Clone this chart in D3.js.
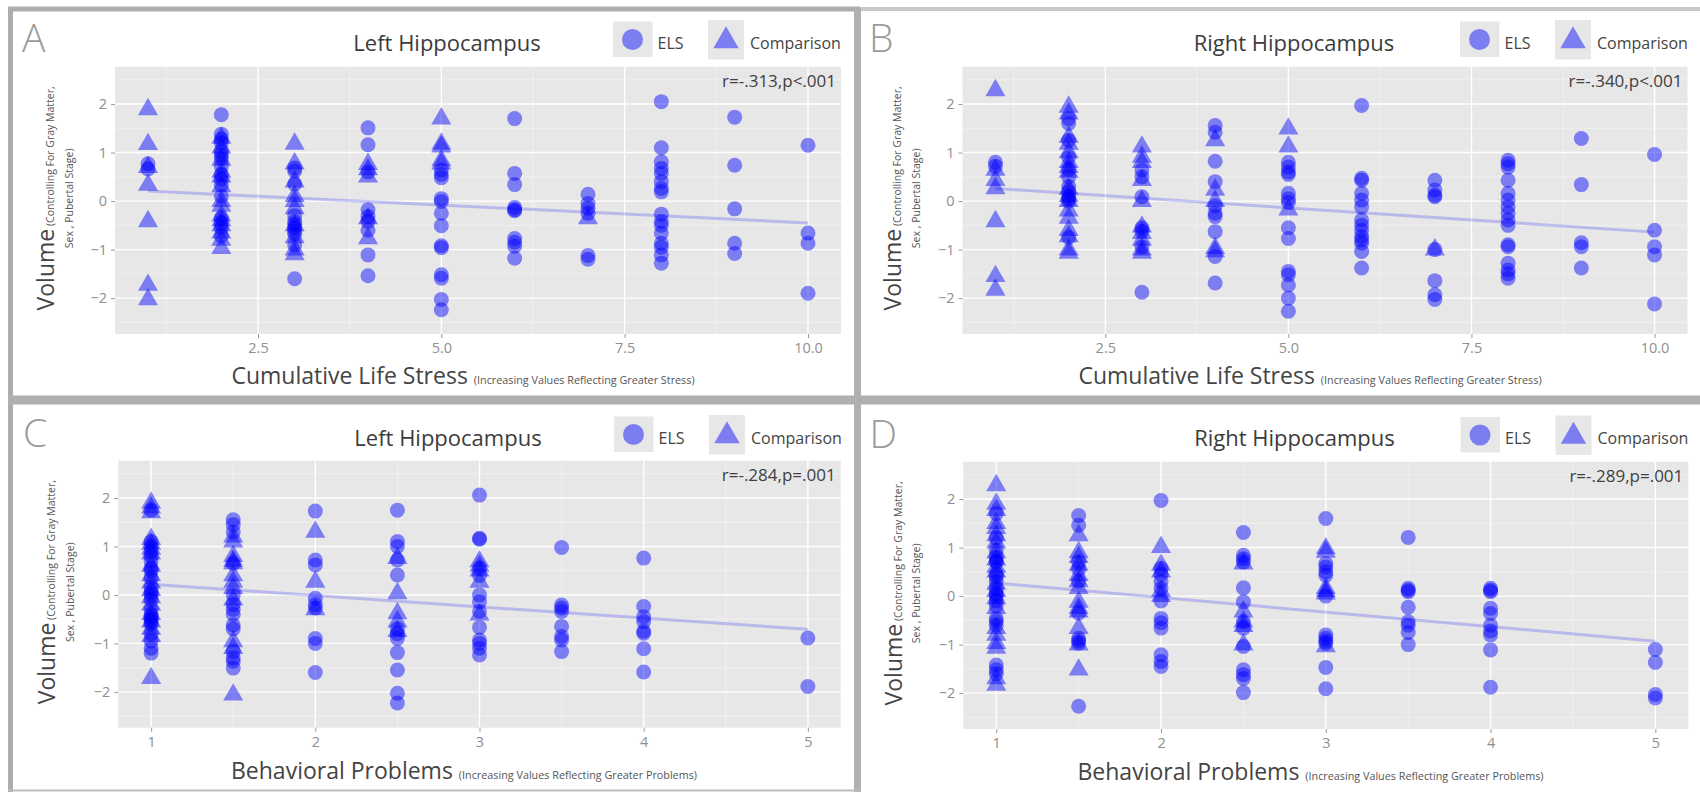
<!DOCTYPE html>
<html><head><meta charset="utf-8">
<script src="https://cdn.jsdelivr.net/npm/d3@7"></script>
<style>
body{margin:0;background:#fff;}
svg{display:block;font-family:'Open Sans',sans-serif;}
</style>
</head><body>
<svg id="c" width="1700" height="792"></svg>
<script>
// ---------------- DATA ----------------
const stressTicks = [2.5, 5.0, 7.5, 10.0];
const behavTicks = [1, 2, 3, 4, 5];
const volumeTicks = [-2, -1, 0, 1, 2];
const legendLabels = ["ELS", "Comparison"];

// Panel A: Left hippocampus vs cumulative life stress  [x, [y values]]
const A_ELS = [
  [1, [0.77, 0.66]],
  [2, [1.78, 1.38, 1.28, 1.2, 1.02, 0.95, 0.88, 0.72, 0.55, 0.45, 0.33, 0.1, -0.35, -0.45, -0.55, -0.72]],
  [3, [0.68, 0.62, 0.35, -0.3, -0.42, -0.48, -0.55, -0.62, -0.68, -0.9, -1.6]],
  [4, [1.51, 1.16, 0.6, -0.18, -0.32, -0.42, -0.6, -1.11, -1.54]],
  [5, [0.64, 0.55, 0.48, 0.05, -0.01, -0.25, -0.51, -0.92, -0.96, -1.52, -1.59, -2.03, -2.24]],
  [6, [1.70, 0.57, 0.34, -0.13, -0.18, -0.2, -0.77, -0.85, -0.93, -1.18]],
  [7, [0.14, -0.05, -0.15, -0.25, -1.12, -1.2]],
  [8, [2.05, 1.10, 0.81, 0.67, 0.57, 0.40, 0.26, 0.19, -0.27, -0.42, -0.5, -0.66, -0.87, -0.95, -1.11, -1.28]],
  [9, [1.73, 0.74, -0.16, -0.87, -1.08]],
  [10, [1.15, -0.66, -0.87, -1.90]]
];
const A_CMP = [
  [1, [1.89, 1.17, 0.7, 0.33, -0.42, -1.73, -2.03]],
  [2, [1.3, 1.1, 0.85, 0.6, 0.5, 0.3, 0.0, -0.1, -0.3, -0.4, -0.5, -0.65, -0.8, -0.97]],
  [3, [1.18, 0.77, 0.4, 0.1, 0.0, -0.15, -0.5, -0.75, -1.0, -1.1]],
  [4, [0.76, 0.65, 0.5, -0.36, -0.77]],
  [5, [1.70, 1.18, 1.12, 0.84, 0.77]],
  [7, [-0.36]]
];
const A_FIT = [[1, 0.21], [10, -0.45]];

// Panel B: Right hippocampus vs cumulative life stress
const B_ELS = [
  [1, [0.8, 0.72]],
  [2, [1.70, 1.6, 1.25, 0.9, 0.65, 0.5, 0.3, 0.2, 0.1, 0.05, 0.0, -0.75]],
  [3, [0.64, 0.5, 0.09, -0.55, -0.62, -0.94, -1.88]],
  [4, [1.56, 1.42, 0.82, 0.40, -0.1, -0.25, -0.32, -0.63, -1.14, -1.69]],
  [5, [0.8, 0.7, 0.6, 0.55, 0.16, 0.05, -0.03, -0.55, -0.77, -1.45, -1.52, -1.73, -2.0, -2.27]],
  [6, [1.97, 0.47, 0.43, 0.16, 0.02, -0.12, -0.39, -0.5, -0.6, -0.73, -0.8, -0.87, -1.04, -1.38]],
  [7, [0.43, 0.23, 0.12, 0.09, -1.0, -1.64, -1.93, -2.03]],
  [8, [0.84, 0.77, 0.70, 0.43, 0.16, 0.02, -0.12, -0.25, -0.39, -0.5, -0.9, -0.94, -1.28, -1.42, -1.5, -1.59]],
  [9, [1.29, 0.34, -0.86, -0.94, -1.38]],
  [10, [0.96, -0.6, -0.94, -1.11, -2.12]]
];
const B_CMP = [
  [1, [2.28, 0.64, 0.43, 0.26, -0.42, -1.55, -1.83]],
  [2, [1.94, 1.80, 1.32, 1.18, 1.0, 0.8, 0.7, 0.6, 0.25, 0.1, 0.0, -0.2, -0.35, -0.6, -0.73, -1.0, -1.07]],
  [3, [1.12, 0.91, 0.8, 0.43, 0.0, -0.53, -0.66, -0.8, -1.0, -1.07]],
  [4, [1.25, 0.23, 0.0, -0.97, -1.04]],
  [5, [1.49, 1.12, -0.18]],
  [7, [-1.0]]
];
const B_FIT = [[1, 0.26], [10, -0.64]];

// Panel C: Left hippocampus vs behavioral problems
const C_ELS = [
  [1, [1.75, 1.1, 1.0, 0.9, 0.8, 0.7, 0.55, 0.5, 0.35, 0.15, 0.05, 0.0, -0.1, -0.3, -0.4, -0.45, -0.5, -0.55, -0.6, -0.8, -0.95, -1.1, -1.2]],
  [1.5, [1.55, 1.45, 1.3, 0.65, 0.0, -0.2, -0.3, -0.4, -0.62, -0.7, -1.17, -1.3, -1.37, -1.51]],
  [2, [1.73, 0.72, 0.62, -0.07, -0.2, -0.27, -0.9, -1.0, -1.6]],
  [2.5, [1.75, 1.1, 1.0, 0.72, 0.41, -0.7, -0.8, -0.9, -1.19, -1.55, -2.03, -2.23]],
  [3, [2.06, 1.17, 1.15, 0.55, 0.4, 0.0, -0.14, -0.34, -0.67, -0.93, -1.0, -1.1, -1.24]],
  [3.5, [0.98, -0.21, -0.27, -0.34, -0.65, -0.86, -0.93, -1.17]],
  [4, [0.76, -0.24, -0.45, -0.55, -0.75, -0.79, -1.11, -1.59]],
  [5, [-0.89, -1.89]]
];
const C_CMP = [
  [1, [1.9, 1.8, 1.7, 1.15, 1.05, 0.95, 0.85, 0.6, 0.4, 0.25, 0.1, -0.05, -0.2, -0.4, -0.55, -0.7, -0.85, -1.72]],
  [1.5, [1.2, 1.1, 0.8, 0.7, 0.65, 0.4, 0.27, 0.14, -0.1, -0.96, -1.1, -2.06]],
  [2, [1.3, 0.27, -0.3]],
  [2.5, [0.76, 0.03, -0.38, -0.55, -0.75]],
  [3, [0.69, 0.6, 0.5, 0.27, -0.41]]
];
const C_FIT = [[1, 0.22], [5, -0.71]];

// Panel D: Right hippocampus vs behavioral problems
const D_ELS = [
  [1, [1.7, 1.2, 0.95, 0.8, 0.72, 0.7, 0.45, 0.4, 0.3, 0.15, 0.05, 0.0, -0.1, -0.2, -0.46, -0.52, -0.6, -1.42, -1.52, -1.6]],
  [1.5, [1.66, 1.46, 0.7, 0.55, 0.3, -0.35, -0.87, -0.92, -0.97, -2.27]],
  [2, [1.97, 0.57, 0.45, 0.3, 0.16, -0.1, -0.46, -0.55, -0.66, -1.21, -1.35, -1.45]],
  [2.5, [1.31, 0.84, 0.77, 0.7, 0.17, -0.12, -0.53, -0.66, -1.04, -1.52, -1.62, -1.7, -1.99]],
  [3, [1.6, 0.67, 0.6, 0.5, 0.43, 0.0, -0.8, -0.87, -0.93, -0.97, -1.47, -1.91]],
  [3.5, [1.21, 0.16, 0.12, 0.09, -0.23, -0.53, -0.6, -0.75, -1.0]],
  [4, [0.16, 0.12, 0.09, -0.25, -0.36, -0.6, -0.72, -0.8, -1.11, -1.88]],
  [5, [-1.1, -1.37, -2.03, -2.1]]
];
const D_CMP = [
  [1, [2.28, 1.9, 1.77, 1.5, 1.4, 1.25, 1.1, 0.9, 0.75, 0.6, 0.5, 0.25, 0.1, -0.05, -0.25, -0.66, -0.8, -0.97, -1.07, -1.7, -1.83]],
  [1.5, [1.25, 0.9, 0.8, 0.64, 0.43, 0.3, 0.16, -0.12, -0.25, -0.32, -0.66, -1.0, -1.52]],
  [2, [1.01, 0.64, 0.5, 0.1, 0.0]],
  [2.5, [0.67, -0.32, -0.53, -0.62, -1.0]],
  [3, [0.98, 0.91, 0.16, 0.1, 0.05, -1.04]]
];
const D_FIT = [[1, 0.27], [5, -0.93]];

// ---------------- LAYOUT ----------------
const panels = [
  {letter: "A", title: "Left Hippocampus", ox: 0, oy: 0,
   plot: {x: 115, y: 66.7, w: 726, h: 267.3},
   xDomain: [0.55, 10.45], ticks: stressTicks, fmt: d3.format(".1f"),
   xTitle: "Cumulative Life Stress", xSub: "(Increasing Values Reflecting Greater Stress)",
   stat: "r=-.313,p<.001", els: A_ELS, cmp: A_CMP, fit: A_FIT},
  {letter: "B", title: "Right Hippocampus", ox: 847, oy: 0,
   plot: {x: 962.5, y: 66.7, w: 725, h: 267.3},
   xDomain: [0.55, 10.45], ticks: stressTicks, fmt: d3.format(".1f"),
   xTitle: "Cumulative Life Stress", xSub: "(Increasing Values Reflecting Greater Stress)",
   stat: "r=-.340,p<.001", els: B_ELS, cmp: B_CMP, fit: B_FIT},
  {letter: "C", title: "Left Hippocampus", ox: 1, oy: 395,
   plot: {x: 118.3, y: 460.7, w: 722.4, h: 267},
   xDomain: [0.8, 5.2], ticks: behavTicks, fmt: d3.format("d"),
   xTitle: "Behavioral Problems", xSub: "(Increasing Values Reflecting Greater Problems)",
   stat: "r=-.284,p=.001", els: C_ELS, cmp: C_CMP, fit: C_FIT},
  {letter: "D", title: "Right Hippocampus", ox: 847.5, oy: 395.5,
   plot: {x: 963.3, y: 461.7, w: 725, h: 267.3},
   xDomain: [0.8, 5.2], ticks: behavTicks, fmt: d3.format("d"),
   xTitle: "Behavioral Problems", xSub: "(Increasing Values Reflecting Greater Problems)",
   stat: "r=-.289,p=.001", els: D_ELS, cmp: D_CMP, fit: D_FIT}
];

const BLUE = "#0000ff";
const PT_OPACITY = 0.46;
const svg = d3.select("#c");
svg.append("rect").attr("width", 1700).attr("height", 792).attr("fill", "#fff");

const flat = groups => groups.flatMap(([x, ys]) => ys.map(y => ({x, y})));

panels.forEach(p => {
  const g = svg.append("g");
  const P = p.plot;
  const x = d3.scaleLinear().domain(p.xDomain).range([P.x, P.x + P.w]);
  const y = d3.scaleLinear().domain([-2.74, 2.77]).range([P.y + P.h, P.y]);

  // panel background
  g.append("rect").attr("x", P.x).attr("y", P.y).attr("width", P.w).attr("height", P.h).attr("fill", "#e7e7e7");

  // minor grid
  const xt = p.ticks;
  const step = xt[1] - xt[0];
  const xMinor = d3.range(xt[0] - step / 2, xt[xt.length - 1] + step, step).filter(v => v > p.xDomain[0] && v < p.xDomain[1]);
  const yMinor = volumeTicks.map(v => v + 0.5).concat([volumeTicks[0] - 0.5]).filter(v => v > -2.74 && v < 2.77);
  g.selectAll(".xm").data(xMinor).join("line")
    .attr("x1", d => x(d)).attr("x2", d => x(d)).attr("y1", P.y).attr("y2", P.y + P.h)
    .attr("stroke", "#f2f2f2").attr("stroke-width", 0.8);
  g.selectAll(".ym").data(yMinor).join("line")
    .attr("x1", P.x).attr("x2", P.x + P.w).attr("y1", d => y(d)).attr("y2", d => y(d))
    .attr("stroke", "#f2f2f2").attr("stroke-width", 0.8);
  // major grid
  g.selectAll(".xg").data(xt).join("line")
    .attr("x1", d => x(d)).attr("x2", d => x(d)).attr("y1", P.y).attr("y2", P.y + P.h)
    .attr("stroke", "#fff").attr("stroke-width", 1.4);
  g.selectAll(".yg").data(volumeTicks).join("line")
    .attr("x1", P.x).attr("x2", P.x + P.w).attr("y1", d => y(d)).attr("y2", d => y(d))
    .attr("stroke", "#fff").attr("stroke-width", 1.4);

  // axes
  const ax = g.append("g").attr("transform", `translate(0,${P.y + P.h})`)
    .call(d3.axisBottom(x).tickValues(xt).tickFormat(p.fmt).tickSize(4).tickPadding(5));
  const ay = g.append("g").attr("transform", `translate(${P.x},0)`)
    .call(d3.axisLeft(y).tickValues(volumeTicks).tickFormat(d3.format("d")).tickSize(4).tickPadding(4));
  [ax, ay].forEach(a => {
    a.select(".domain").remove();
    a.selectAll(".tick line").attr("stroke", "#9a9a9a");
    a.selectAll(".tick text").attr("fill", "#8f8f8f").style("font-size", "14.5px").style("font-family", "'Open Sans',sans-serif");
  });

  // regression line
  g.append("line")
    .attr("x1", x(p.fit[0][0])).attr("y1", y(p.fit[0][1]))
    .attr("x2", x(p.fit[1][0])).attr("y2", y(p.fit[1][1]))
    .attr("stroke", BLUE).attr("stroke-opacity", 0.2).attr("stroke-width", 3);

  // points
  g.selectAll(".els").data(flat(p.els)).join("circle")
    .attr("cx", d => x(d.x)).attr("cy", d => y(d.y)).attr("r", 7.5)
    .attr("fill", BLUE).attr("fill-opacity", PT_OPACITY);
  const tri = d3.symbol().type(d3.symbolTriangle).size(175);
  g.selectAll(".cmp").data(flat(p.cmp)).join("path")
    .attr("d", tri).attr("transform", d => `translate(${x(d.x)},${y(d.y)})`)
    .attr("fill", BLUE).attr("fill-opacity", PT_OPACITY);

  // stat text
  g.append("text").attr("x", P.x + P.w - 5).attr("y", P.y + 20.5).attr("text-anchor", "end")
    .attr("fill", "#404040").style("font-size", "17px").text(p.stat);

  // title
  g.append("text").attr("x", p.ox + 447).attr("y", p.oy + 50.5).attr("text-anchor", "middle")
    .attr("fill", "#3c3c3c").style("font-size", "22px").text(p.title);

  // panel letter
  g.append("text").attr("x", p.ox + 22).attr("y", p.oy + 52).attr("fill", "#9a9a9a")
    .style("font-size", "39px").style("font-weight", 300).text(p.letter);

  // legend
  const lg = g.append("g").attr("transform", `translate(${p.ox},${p.oy})`);
  lg.append("rect").attr("x", 613).attr("y", 21.5).attr("width", 39.5).attr("height", 35.5).attr("fill", "#e7e7e7");
  lg.append("circle").attr("cx", 632.5).attr("cy", 39.5).attr("r", 10.5).attr("fill", BLUE).attr("fill-opacity", PT_OPACITY);
  lg.append("text").attr("x", 657.5).attr("y", 48.5).attr("fill", "#444").style("font-size", "16px").text(legendLabels[0]);
  lg.append("rect").attr("x", 708).attr("y", 20).attr("width", 36).attr("height", 39.5).attr("fill", "#e7e7e7");
  lg.append("path").attr("d", d3.symbol().type(d3.symbolTriangle).size(280)).attr("transform", "translate(726,41)")
    .attr("fill", BLUE).attr("fill-opacity", PT_OPACITY);
  lg.append("text").attr("x", 750).attr("y", 48.5).attr("fill", "#444").style("font-size", "16px").text(legendLabels[1]);

  // x axis title
  const xtt = g.append("text").attr("x", p.ox + 463).attr("y", p.oy + 384).attr("text-anchor", "middle").attr("fill", "#444");
  xtt.append("tspan").style("font-size", "23px").text(p.xTitle + " ");
  xtt.append("tspan").style("font-size", "10.8px").attr("fill", "#555").text(p.xSub);

  // y axis title (two lines)
  const cy = P.y + P.h / 2 - 2;
  const yt = g.append("text").attr("transform", `translate(${p.ox + 54},${cy}) rotate(-90)`)
    .attr("text-anchor", "middle").attr("fill", "#444");
  yt.append("tspan").style("font-size", "23px").text("Volume");
  yt.append("tspan").style("font-size", "10.5px").attr("fill", "#555").text(" (Controlling For Gray Matter,");
  g.append("text").attr("transform", `translate(${p.ox + 72.5},${cy}) rotate(-90)`)
    .attr("text-anchor", "middle").attr("fill", "#555").style("font-size", "10.5px").text("Sex , Pubertal Stage)");
});

// ---------------- FRAMES (screenshot borders) ----------------
const fr = svg.append("g").attr("fill", "none");
fr.append("line").attr("x1", 8).attr("x2", 860).attr("y1", 9).attr("y2", 9).attr("stroke", "#adadad").attr("stroke-width", 5);
fr.append("line").attr("x1", 860).attr("x2", 1700).attr("y1", 9).attr("y2", 9).attr("stroke", "#c8c8c8").attr("stroke-width", 4);
fr.append("line").attr("x1", 10.5).attr("x2", 10.5).attr("y1", 7).attr("y2", 792).attr("stroke", "#adadad").attr("stroke-width", 5);
fr.append("line").attr("x1", 857.5).attr("x2", 857.5).attr("y1", 7).attr("y2", 792).attr("stroke", "#b0b0b0").attr("stroke-width", 7);
fr.append("line").attr("x1", 8).attr("x2", 1700).attr("y1", 400).attr("y2", 400).attr("stroke", "#b0b0b0").attr("stroke-width", 9);
fr.append("line").attr("x1", 8).attr("x2", 860).attr("y1", 790.5).attr("y2", 790.5).attr("stroke", "#bdbdbd").attr("stroke-width", 2);
</script>
</body></html>
